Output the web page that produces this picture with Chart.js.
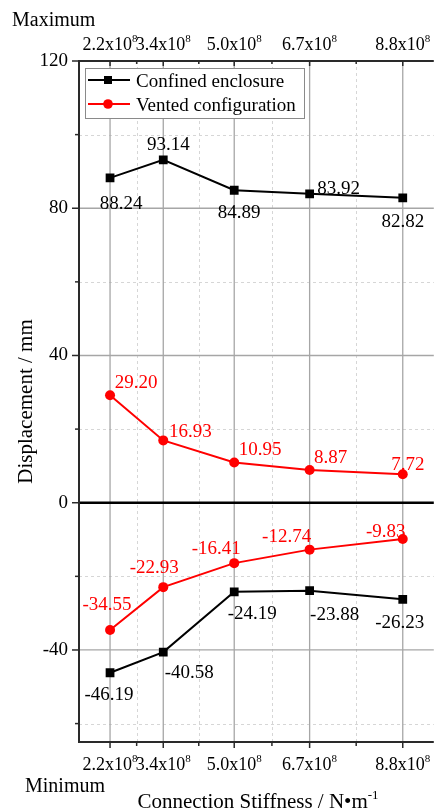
<!DOCTYPE html>
<html>
<head>
<meta charset="utf-8">
<script src="https://cdn.jsdelivr.net/npm/chart.js@4.4.1/dist/chart.umd.min.js"></script>
<style>
  html, body { margin: 0; padding: 0; background: #fff; overflow: hidden; width: 435px; height: 812px; }
  #wrap { width: 440px; height: 812px; }
</style>
</head>
<body>
<div id="wrap"><canvas id="c" width="440" height="812"></canvas></div>
<script>
// ---------------- data ----------------
const stiffness = [2.2, 3.4, 5.0, 6.7, 8.8];               // x 10^8 N/m
const xTickLabels = ['2.2x10', '3.4x10', '5.0x10', '6.7x10', '8.8x10'];
const xTickExponent = '8';
const yTicks = [-40, 0, 40, 80, 120];
const yMinorTicks = [-60, -20, 20, 60, 100];
const seriesNames = ['Confined enclosure', 'Vented configuration'];
const confinedMax = [88.24, 93.14, 84.89, 83.92, 82.82];
const ventedMax   = [29.20, 16.93, 10.95, 8.87, 7.72];
const confinedMin = [-46.19, -40.58, -24.19, -23.88, -26.23];
const ventedMin   = [-34.55, -22.93, -16.41, -12.74, -9.83];

// ---------------- styles / label placement ----------------
const FONT = '"Liberation Serif", "Times New Roman", serif';
const BLACK = '#000000', RED = '#ff0000';
const labelOffsets = [
  [[11, 25], [5, -16], [5, 21], [29, -6], [0, 23]],            // confinedMax
  [[26, -13.5], [27, -10], [26, -13.5], [21, -13.5], [5, -11]],  // ventedMax
  [[-1, 21], [26, 19.5], [18, 21], [25, 23], [-3, 22]],         // confinedMin
  [[-3, -26], [-9, -21], [-18, -16], [-23, -14], [-17, -8]]     // ventedMin
];

function pts(vals) { return stiffness.map((x, i) => ({ x: x, y: vals[i] })); }
function ds(label, vals, color, style, radius) {
  return {
    label: label, data: pts(vals), borderColor: color, backgroundColor: color,
    borderWidth: 2, pointStyle: style, pointRadius: radius, pointBorderWidth: 0,
    pointBackgroundColor: color, tension: 0, fill: false
  };
}

const decorPlugin = {
  id: 'decor',
  beforeDatasetsDraw(chart) {
    const { ctx, chartArea: a, scales: { x, y } } = chart;
    ctx.save();
    const xMinor = stiffness.slice(0, -1).map((v, i) => (v + stiffness[i + 1]) / 2);
    // minor grid
    ctx.strokeStyle = '#d6d6d6'; ctx.lineWidth = 1; ctx.setLineDash([3, 3]);
    xMinor.forEach(v => { const px = Math.round(x.getPixelForValue(v)) + 0.5; ctx.beginPath(); ctx.moveTo(px, a.top); ctx.lineTo(px, a.bottom); ctx.stroke(); });
    yMinorTicks.forEach(v => { const py = Math.round(y.getPixelForValue(v)) + 0.5; ctx.beginPath(); ctx.moveTo(a.left, py); ctx.lineTo(a.right, py); ctx.stroke(); });
    ctx.setLineDash([]);
    // major grid
    ctx.strokeStyle = '#a6a6a6'; ctx.lineWidth = 1.3;
    stiffness.forEach(v => { const px = x.getPixelForValue(v); ctx.beginPath(); ctx.moveTo(px, a.top); ctx.lineTo(px, a.bottom); ctx.stroke(); });
    yTicks.filter(v => v !== 0 && v !== 120).forEach(v => { const py = y.getPixelForValue(v); ctx.beginPath(); ctx.moveTo(a.left, py); ctx.lineTo(a.right, py); ctx.stroke(); });
    // zero line
    const y0 = y.getPixelForValue(0);
    ctx.strokeStyle = '#000'; ctx.lineWidth = 2.5;
    ctx.beginPath(); ctx.moveTo(a.left, y0); ctx.lineTo(a.right, y0); ctx.stroke();
    // axes
    ctx.strokeStyle = '#2a2a2a'; ctx.lineWidth = 2;
    ctx.beginPath(); ctx.moveTo(a.left, a.top); ctx.lineTo(a.right, a.top); ctx.stroke();
    ctx.beginPath(); ctx.moveTo(a.left, a.bottom); ctx.lineTo(a.right, a.bottom); ctx.stroke();
    ctx.beginPath(); ctx.moveTo(a.left, a.top - 1); ctx.lineTo(a.left, a.bottom + 1); ctx.stroke();
    // ticks
    ctx.lineWidth = 1.5;
    yTicks.forEach(v => { const py = y.getPixelForValue(v); ctx.beginPath(); ctx.moveTo(a.left - 7, py); ctx.lineTo(a.left, py); ctx.stroke(); });
    yMinorTicks.forEach(v => { const py = y.getPixelForValue(v); ctx.beginPath(); ctx.moveTo(a.left - 4, py); ctx.lineTo(a.left, py); ctx.stroke(); });
    stiffness.forEach(v => { const px = x.getPixelForValue(v);
      ctx.beginPath(); ctx.moveTo(px, a.bottom); ctx.lineTo(px, a.bottom + 6); ctx.stroke();
      ctx.beginPath(); ctx.moveTo(px, a.top); ctx.lineTo(px, a.top + 5); ctx.stroke(); });
    xMinor.forEach(v => { const px = x.getPixelForValue(v);
      ctx.beginPath(); ctx.moveTo(px, a.bottom); ctx.lineTo(px, a.bottom + 4); ctx.stroke();
      ctx.beginPath(); ctx.moveTo(px, a.top); ctx.lineTo(px, a.top + 3); ctx.stroke(); });
    ctx.restore();
  },
  afterDatasetsDraw(chart) {
    const { ctx, scales: { x, y } } = chart;
    ctx.save();
    // data labels
    ctx.font = '19px ' + FONT; ctx.textAlign = 'center'; ctx.textBaseline = 'alphabetic';
    chart.data.datasets.forEach((d, di) => {
      ctx.fillStyle = d.borderColor;
      d.data.forEach((p, i) => {
        const px = x.getPixelForValue(p.x), py = y.getPixelForValue(p.y);
        const off = labelOffsets[di][i];
        ctx.fillText(p.y.toFixed(2), px + off[0], py + off[1] + 6.5);
      });
    });
    // legend
    const bx = 85, by = 68, bw = 219, bh = 50;
    ctx.fillStyle = '#fff'; ctx.fillRect(bx, by, bw, bh);
    ctx.strokeStyle = '#8a8a8a'; ctx.lineWidth = 1;
    ctx.strokeRect(bx + 0.5, by + 0.5, bw, bh);
    const rows = [[80, BLACK, 'rect'], [104, RED, 'circle']];
    rows.forEach((r, i) => {
      ctx.strokeStyle = r[1]; ctx.fillStyle = r[1]; ctx.lineWidth = 2;
      ctx.beginPath(); ctx.moveTo(88, r[0]); ctx.lineTo(130, r[0]); ctx.stroke();
      if (r[2] === 'rect') ctx.fillRect(104, r[0] - 4, 8, 8);
      else { ctx.beginPath(); ctx.arc(108, r[0], 4.8, 0, Math.PI * 2); ctx.fill(); }
      ctx.fillStyle = '#000'; ctx.font = '19px ' + FONT; ctx.textAlign = 'left';
      ctx.fillText(seriesNames[i], 136, r[0] + 7);
    });
    ctx.restore();
  },
  afterDraw(chart) {
    const { ctx, chartArea: a, scales: { x } } = chart;
    ctx.save();
    ctx.fillStyle = '#000'; ctx.textBaseline = 'alphabetic';
    // x tick labels (top and bottom) with superscript
    stiffness.forEach((v, i) => {
      const px = x.getPixelForValue(v);
      ctx.font = '18px ' + FONT; const w1 = ctx.measureText(xTickLabels[i]).width;
      ctx.font = '11px ' + FONT; const w2 = ctx.measureText(xTickExponent).width;
      const start = px - (w1 + w2) / 2;
      [50, 770].forEach(base => {
        ctx.textAlign = 'left';
        ctx.font = '18px ' + FONT; ctx.fillText(xTickLabels[i], start, base);
        ctx.font = '11px ' + FONT; ctx.fillText(xTickExponent, start + w1, base - 8);
      });
    });
    // Maximum / Minimum
    ctx.font = '20px ' + FONT; ctx.textAlign = 'left';
    ctx.fillText('Maximum', 12, 26);
    ctx.fillText('Minimum', 25, 792);
    // x title
    const t1 = 'Connection Stiffness / N\u2022m', t2 = '-1';
    ctx.font = '21px ' + FONT; const tw1 = ctx.measureText(t1).width;
    ctx.font = '13px ' + FONT; const tw2 = ctx.measureText(t2).width;
    const sx = 258 - (tw1 + tw2) / 2;
    ctx.font = '21px ' + FONT; ctx.fillText(t1, sx, 808);
    ctx.font = '13px ' + FONT; ctx.fillText(t2, sx + tw1, 799);
    // y title
    ctx.translate(32, (a.top + a.bottom) / 2);
    ctx.rotate(-Math.PI / 2);
    ctx.font = '21px ' + FONT; ctx.textAlign = 'center';
    ctx.fillText('Displacement / mm', 0, 0);
    ctx.restore();
  }
};

new Chart(document.getElementById('c'), {
  type: 'line',
  data: {
    datasets: [
      ds(seriesNames[0], confinedMax, BLACK, 'rect', 6.2),
      ds(seriesNames[1], ventedMax, RED, 'circle', 5),
      ds(seriesNames[0] + ' (min)', confinedMin, BLACK, 'rect', 6.2),
      ds(seriesNames[1] + ' (min)', ventedMin, RED, 'circle', 5)
    ]
  },
  options: {
    responsive: false,
    devicePixelRatio: 1,
    animation: false,
    layout: { padding: { top: 61, bottom: 70, left: 0, right: 0 } },
    plugins: { legend: { display: false }, tooltip: { enabled: false } },
    scales: {
      x: { type: 'linear', min: 1.5, max: 9.5, display: false },
      y: {
        type: 'linear', min: -65, max: 120,
        grid: { display: false, drawTicks: false },
        border: { display: false },
        afterBuildTicks: s => { s.ticks = yTicks.map(v => ({ value: v })); },
        afterFit: s => { s.width = 79; },
        ticks: { color: '#000', font: { family: FONT, size: 19 }, padding: 11, callback: v => String(v) }
      }
    }
  },
  plugins: [decorPlugin]
});
</script>
</body>
</html>
